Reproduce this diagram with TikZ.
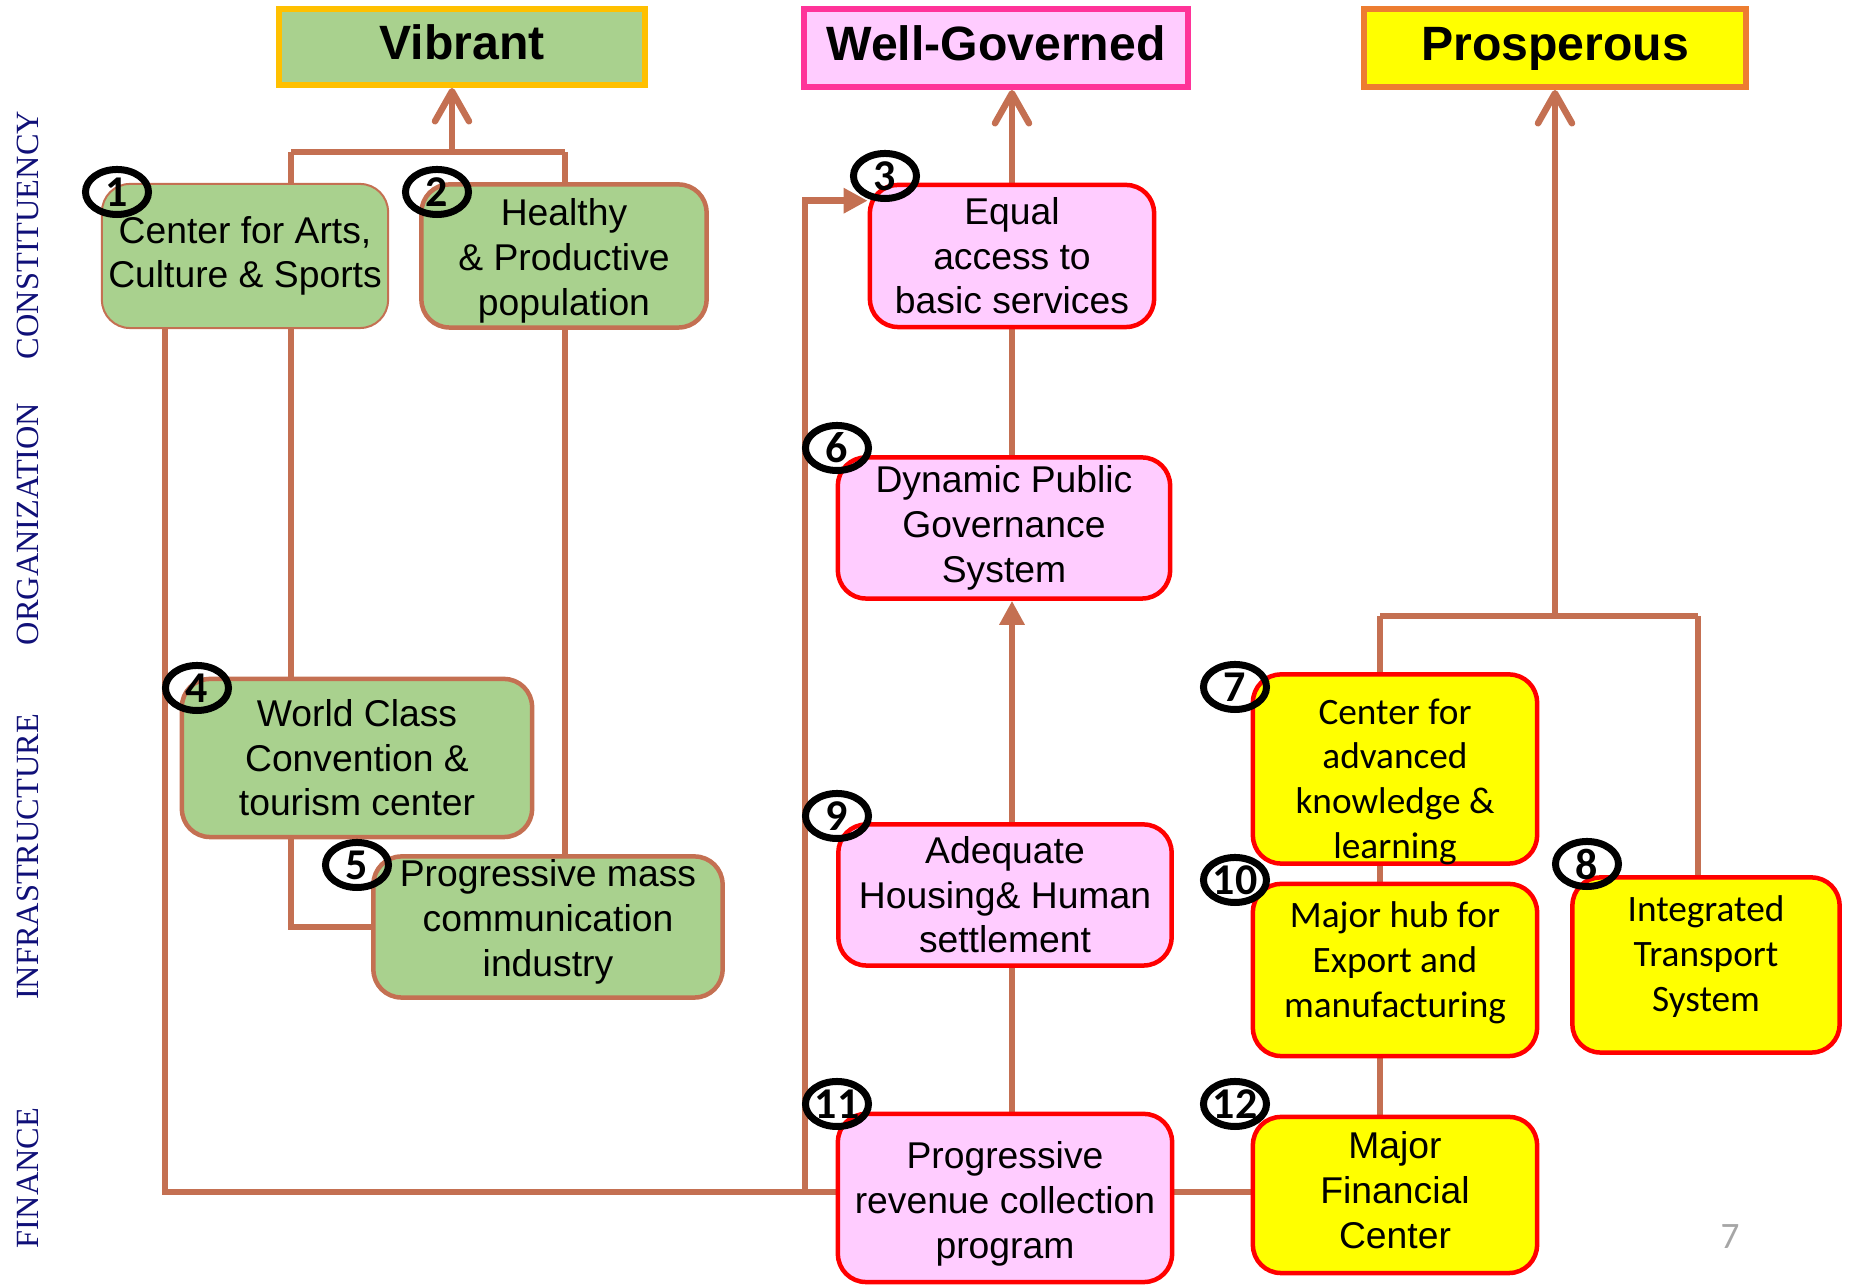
\documentclass[tikz,border=0pt]{standalone}
\usepackage{fontspec}
\setmainfont{Liberation Sans}
\newfontfamily\calibri{Carlito}
\newfontfamily\timesrm{Liberation Serif}
\usetikzlibrary{shapes.geometric,arrows.meta,backgrounds}
\definecolor{linkbrown}{RGB}{196,112,82}
\definecolor{leaf}{RGB}{169,209,142}
\definecolor{blush}{RGB}{255,204,255}
\definecolor{lemon}{RGB}{255,255,0}
\definecolor{goldline}{RGB}{255,192,0}
\definecolor{roseline}{RGB}{255,51,153}
\definecolor{amberline}{RGB}{237,125,49}
\definecolor{rowblue}{RGB}{16,16,120}
\definecolor{pagegray}{RGB}{166,166,166}

\begin{document}
\begin{tikzpicture}[x=0.01cm,y=-0.01cm,
  goal/.style={draw,line width=0.06cm,minimum height=0.78cm,text height=0.72em,text depth=0pt,
    font=\fontsize{13.7}{15}\selectfont\bfseries},
  cellbox/.style={rectangle,rounded corners=0.28cm,line width=0.045cm,align=center,inner sep=0pt,
    font=\fontsize{10.6}{12.7}\selectfont},
  vibbox/.style={cellbox,draw=linkbrown,fill=leaf},
  govbox/.style={cellbox,draw=red,fill=blush},
  probox/.style={cellbox,draw=red,fill=lemon},
  cal/.style={font=\calibri\fontsize{10.6}{12.7}\selectfont},
  drop/.style={text height=#1,text depth=0pt},
  badge/.style={ellipse,draw=black,line width=0.07cm,minimum width=0.63cm,minimum height=0.45cm,
    inner sep=0pt,font=\calibri\fontsize{12.5}{13}\selectfont\bfseries},
  rowlabel/.style={rotate=90,text=rowblue,font=\timesrm\fontsize{9.2}{10}\selectfont},
  wire/.style={draw=linkbrown,line width=0.065cm},
  wireup/.style={wire,-{Straight Barb[length=0.3cm,width=0.34cm,round]}},
  wirein/.style={wire,-{Triangle[length=0.24cm,width=0.24cm]}}]
  \useasboundingbox (0,0) rectangle (1853,1286);

  % goals
  \node[goal,fill=leaf,draw=goldline,minimum width=3.66cm,minimum height=0.76cm] (h_v) at (462,47) {Vibrant};
  \node[goal,fill=blush,draw=roseline,minimum width=3.83cm] (h_w) at (996,48) {Well-Governed};
  \node[goal,fill=lemon,draw=amberline,minimum width=3.82cm] (h_p) at (1555,48) {Prosperous};

  % row labels
  \node[rowlabel] (l_c) at (28,235) {CONSTITUENCY};
  \node[rowlabel] (l_o) at (28,524) {ORGANIZATION};
  \node[rowlabel] (l_i) at (28,857) {INFRASTRUCTURE};
  \node[rowlabel] (l_f) at (28,1178) {FINANCE};

  % components
  \node[vibbox,line width=0.02cm,minimum width=2.86cm,minimum height=1.44cm] (c_1) at (245,256) {Center for Arts,\\Culture \& Sports};
  \node[vibbox,drop=1.18cm,minimum width=2.85cm,minimum height=1.43cm] (c_2) at (564,256) {Healthy\\\& Productive\\population};
  \node[govbox,minimum width=2.84cm,minimum height=1.42cm] (c_3) at (1012,256) {Equal\\access to\\basic services};
  \node[vibbox,minimum width=3.50cm,minimum height=1.58cm] (c_4) at (357,758) {World Class\\Convention \&\\tourism center};
  \node[vibbox,drop=0.98cm,minimum width=3.49cm,minimum height=1.41cm] (c_5) at (548,927) {Progressive mass\\communication\\industry};
  \node[govbox,minimum width=3.32cm,minimum height=1.41cm] (c_6) at (1004,528) {Dynamic Public\\Governance\\System};
  \node[probox,cal,drop=1.78cm,minimum width=2.84cm,minimum height=1.89cm] (c_7) at (1395,769) {Center for\\advanced\\knowledge \&\\learning};
  \node[probox,cal,drop=0.92cm,minimum width=2.67cm,minimum height=1.75cm] (c_8) at (1706,965) {Integrated\\Transport\\System};
  \node[govbox,minimum width=3.33cm,minimum height=1.41cm] (c_9) at (1005,895) {Adequate\\Housing\& Human\\settlement};
  \node[probox,cal,drop=0.94cm,minimum width=2.84cm,minimum height=1.72cm] (c_10) at (1395,970) {Major hub for\\Export and\\manufacturing};
  \node[govbox,drop=1.20cm,minimum width=3.34cm,minimum height=1.68cm] (c_11) at (1005,1198) {Progressive\\revenue collection\\program};
  \node[probox,drop=1.06cm,minimum width=2.84cm,minimum height=1.56cm] (c_12) at (1395,1195) {Major\\Financial\\Center};

  % numbers
  \node[badge] (n_1) at (117,192) {1};
  \node[badge] (n_2) at (437,192) {2};
  \node[badge] (n_3) at (885,176) {3};
  \node[badge] (n_4) at (197,688) {4};
  \node[badge] (n_5) at (357,865) {5};
  \node[badge] (n_6) at (837,448) {6};
  \node[badge] (n_7) at (1235,687) {7};
  \node[badge] (n_8) at (1587,864) {8};
  \node[badge] (n_9) at (837,816) {9};
  \node[badge] (n_10) at (1235,880) {10};
  \node[badge] (n_11) at (837,1104) {11};
  \node[badge] (n_12) at (1235,1104) {12};

  \node[cal,text=pagegray] (pg) at (1730,1237) {7};

  \coordinate (v_l) at (291,152);
  \coordinate (v_m) at (452,152);
  \coordinate (v_r) at (565,152);
  \coordinate (f_l) at (165,1192);
  \coordinate (f_m) at (805,1192);
  \coordinate (p_l) at (1380,616);
  \coordinate (p_m) at (1555,616);
  \coordinate (p_r) at (1698,616);

  \begin{scope}[on background layer]
    \draw[wire] (v_l) |- (c_5.west);
    \draw[wire] (f_l |- c_1.south) -- (f_l) -- (f_l -| c_11.west);
    \draw[wirein] (f_m) |- ([yshift=-0.18cm]c_3.north west);
    \path[wire]
      (v_l) edge (v_r)
      (v_m) edge[wireup] (v_m |- h_v.south)
      (v_r) edge (v_r |- c_5.north)
      (f_l -| c_11.east) edge (f_l -| c_12.west)
      (c_3.north) edge[wireup] (c_3.north |- h_w.south)
      (c_3.south) edge (c_3.south |- c_6.north)
      (c_3 |- c_9.north) edge[wirein] (c_3 |- c_6.south)
      (c_3 |- c_9.south) edge (c_3 |- c_11.north)
      (p_l) edge (p_r)
      (p_m) edge[wireup] (p_m |- h_p.south)
      (p_l) edge (p_l |- c_12.north)
      (p_r) edge (p_r |- c_8.north);
  \end{scope}
\end{tikzpicture}
\end{document}
